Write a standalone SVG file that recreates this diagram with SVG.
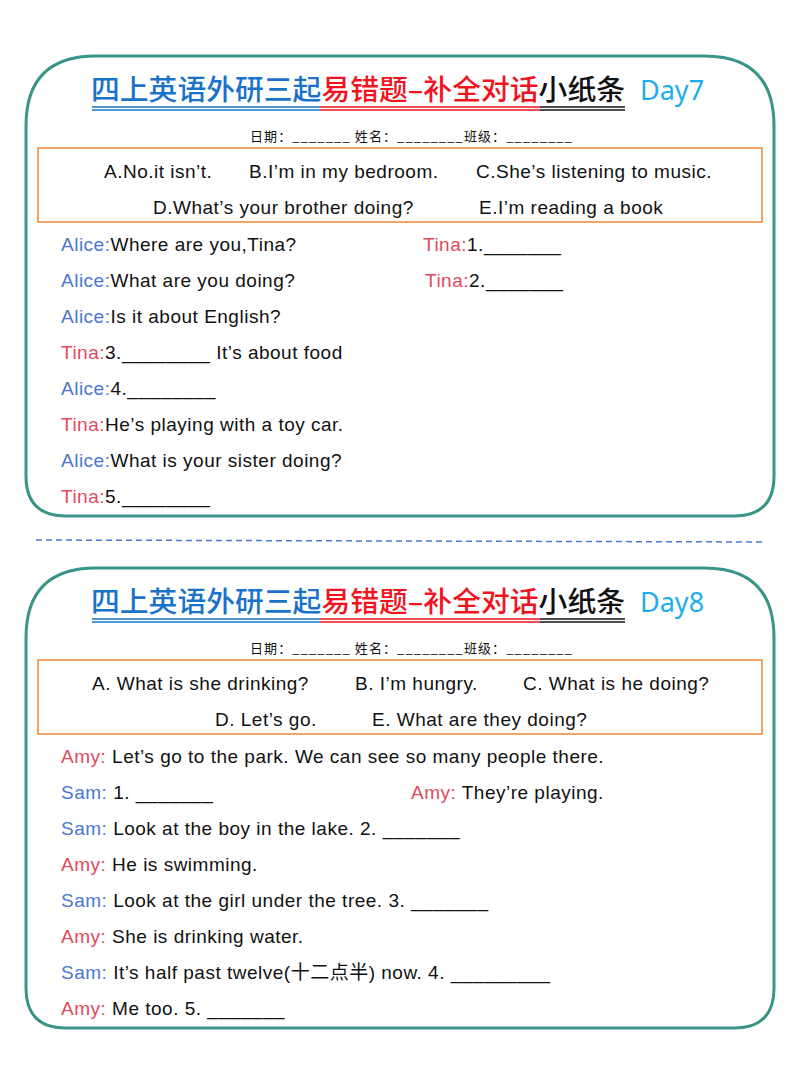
<svg xmlns="http://www.w3.org/2000/svg" width="800" height="1066" viewBox="0 0 800 1066">
<style>
text{font-family:"Liberation Sans","Noto Sans CJK SC",sans-serif;fill:#111}
.t{font-family:"Noto Sans CJK SC",sans-serif;font-size:28px;font-weight:500}
.b{fill:#1a73c8}.r{fill:#f0141e}.k{fill:#111}
.d{font-family:"Noto Sans",sans-serif;font-size:27px;fill:#1aaef0}
.f{font-family:"Noto Sans CJK SC",sans-serif;font-size:13px}
.o,.l{font-size:19px;letter-spacing:0.5px}
.ca{fill:#4a78d0}.ct{fill:#e04a60}
.card{fill:#fff;stroke:#3a9488;stroke-width:3}
.box{fill:none;stroke:#f0a468;stroke-width:2}
</style>
<rect width="800" height="1066" fill="#fff"/>
<g id="card7">
<path class="card" d="M96 56 H704 Q774 56 774 126 V476 Q774 516 734 516 H66 Q26 516 26 476 V126 Q26 56 96 56 Z"/>
<text x="91" y="100" class="t" textLength="534" lengthAdjust="spacingAndGlyphs"><tspan class="b">四上英语外研三起</tspan><tspan class="r">易错题–补全对话</tspan><tspan class="k">小纸条</tspan></text>
<text x="640" y="100" class="d">Day7</text>
<g stroke-width="1.5"><line x1="92" y1="107" x2="320" y2="107" stroke="#1a73c8"/><line x1="92" y1="110" x2="320" y2="110" stroke="#1a73c8"/><line x1="320" y1="107" x2="540" y2="107" stroke="#f0141e"/><line x1="320" y1="110" x2="540" y2="110" stroke="#f0141e"/><line x1="540" y1="107" x2="625" y2="107" stroke="#111"/><line x1="540" y1="110" x2="625" y2="110" stroke="#111"/></g>
<text x="250" y="141" class="f" textLength="322">日期：_______  姓名：________班级：________</text>
<rect class="box" x="38" y="148" width="724" height="74"/>
<text class="o" y="178"><tspan x="104">A.No.it isn’t.</tspan><tspan x="249">B.I’m in my bedroom.</tspan><tspan x="476">C.She’s listening to music.</tspan></text>
<text class="o" y="214"><tspan x="153">D.What’s your brother doing?</tspan><tspan x="479">E.I’m reading a book</tspan></text>
<text class="l" x="61" y="251"><tspan class="ca">Alice:</tspan>Where are you,Tina?</text>
<text class="l" x="423" y="251"><tspan class="ct">Tina:</tspan>1._______</text>
<text class="l" x="61" y="287"><tspan class="ca">Alice:</tspan>What are you doing?</text>
<text class="l" x="425" y="287"><tspan class="ct">Tina:</tspan>2._______</text>
<text class="l" x="61" y="323"><tspan class="ca">Alice:</tspan>Is it about English?</text>
<text class="l" x="61" y="359"><tspan class="ct">Tina:</tspan>3.________  It’s about food</text>
<text class="l" x="61" y="395"><tspan class="ca">Alice:</tspan>4.________</text>
<text class="l" x="61" y="431"><tspan class="ct">Tina:</tspan>He’s playing with a toy car.</text>
<text class="l" x="61" y="467"><tspan class="ca">Alice:</tspan>What is your sister doing?</text>
<text class="l" x="61" y="503"><tspan class="ct">Tina:</tspan>5.________</text>
</g>
<g id="connectors"><line x1="36" y1="540" x2="764" y2="542" stroke="#4a78d0" stroke-width="1.5" stroke-dasharray="6 4"/></g>
<g id="card8">
<path class="card" d="M96 568 H704 Q774 568 774 638 V988 Q774 1028 734 1028 H66 Q26 1028 26 988 V638 Q26 568 96 568 Z"/>
<text x="91" y="612" class="t" textLength="534" lengthAdjust="spacingAndGlyphs"><tspan class="b">四上英语外研三起</tspan><tspan class="r">易错题–补全对话</tspan><tspan class="k">小纸条</tspan></text>
<text x="640" y="612" class="d">Day8</text>
<g stroke-width="1.5"><line x1="92" y1="619" x2="320" y2="619" stroke="#1a73c8"/><line x1="92" y1="622" x2="320" y2="622" stroke="#1a73c8"/><line x1="320" y1="619" x2="540" y2="619" stroke="#f0141e"/><line x1="320" y1="622" x2="540" y2="622" stroke="#f0141e"/><line x1="540" y1="619" x2="625" y2="619" stroke="#111"/><line x1="540" y1="622" x2="625" y2="622" stroke="#111"/></g>
<text x="250" y="653" class="f" textLength="322">日期：_______  姓名：________班级：________</text>
<rect class="box" x="38" y="660" width="724" height="74"/>
<text class="o" y="690"><tspan x="92">A. What is she drinking?</tspan><tspan x="355">B. I’m hungry.</tspan><tspan x="523">C. What is he doing?</tspan></text>
<text class="o" y="726"><tspan x="215">D. Let’s go.</tspan><tspan x="372">E. What are they doing?</tspan></text>
<text class="l" x="61" y="763"><tspan class="ct">Amy:</tspan> Let’s go to the park. We can see so many people there.</text>
<text class="l" x="61" y="799"><tspan class="ca">Sam:</tspan> 1. _______</text>
<text class="l" x="411" y="799"><tspan class="ct">Amy:</tspan> They’re playing.</text>
<text class="l" x="61" y="835"><tspan class="ca">Sam:</tspan> Look at the boy in the lake. 2. _______</text>
<text class="l" x="61" y="871"><tspan class="ct">Amy:</tspan> He is swimming.</text>
<text class="l" x="61" y="907"><tspan class="ca">Sam:</tspan> Look at the girl under the tree. 3. _______</text>
<text class="l" x="61" y="943"><tspan class="ct">Amy:</tspan> She is drinking water.</text>
<text class="l" x="61" y="979"><tspan class="ca">Sam:</tspan> It’s half past twelve(十二点半) now. 4. _________</text>
<text class="l" x="61" y="1015"><tspan class="ct">Amy:</tspan> Me too. 5. _______</text>
</g>
</svg>
